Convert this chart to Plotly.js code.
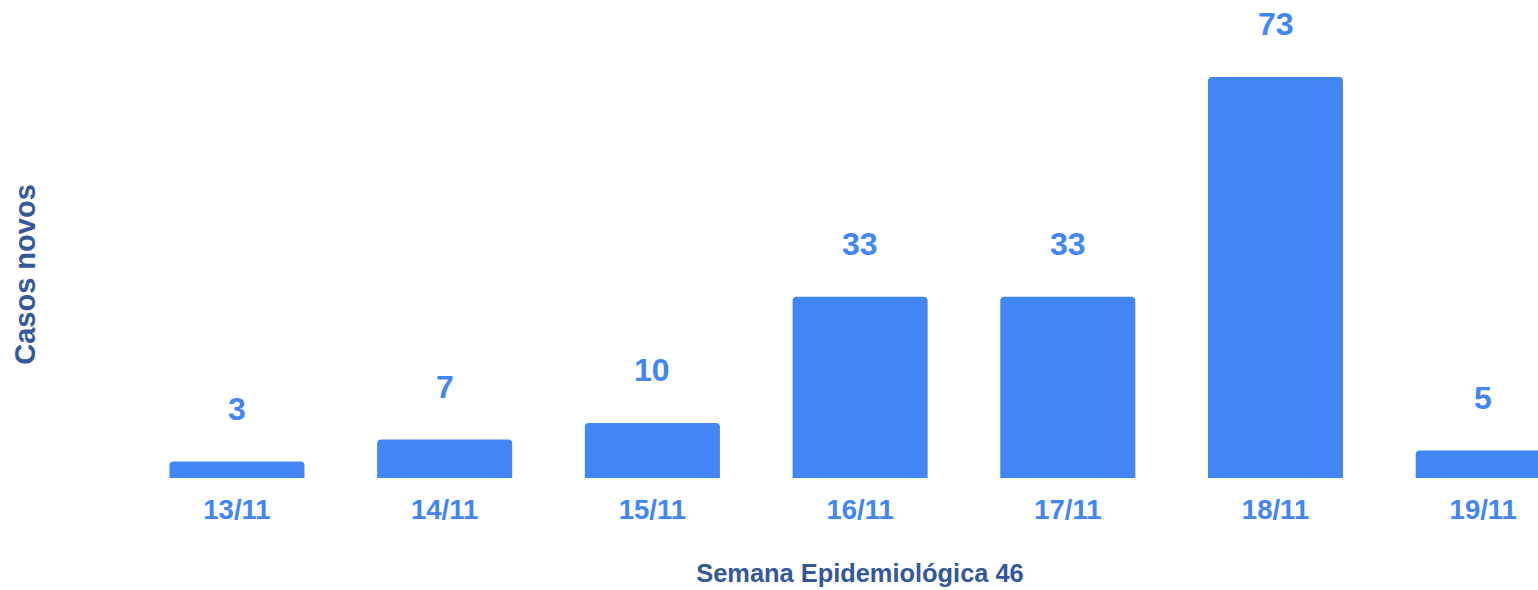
<!DOCTYPE html>
<html>
<head>
<meta charset="utf-8">
<script src="https://cdn.plot.ly/plotly-3.0.1.min.js"></script>
<style>html,body{margin:0;padding:0;background:#fff;overflow:hidden;}#chart{width:1590px;height:590px;}</style>
</head>
<body>
<div id="chart"></div>
<script>
const categories = ["13/11", "14/11", "15/11", "16/11", "17/11", "18/11", "19/11"];
const casosNovos = [3, 7, 10, 33, 33, 73, 5];
const xAxisTitle = "Semana Epidemiológica 46";
const yAxisTitle = "Casos novos";

const barColor = "#4285f4";
const titleColor = "#34589a";
const fontFamily = "Liberation Sans, Arial, sans-serif";

const trace = {
  type: "bar",
  x: categories,
  y: casosNovos,
  width: 0.65,
  marker: { color: barColor, cornerradius: 4 },
  hoverinfo: "none"
};

const annotations = categories.map((c, i) => ({
  x: c, y: casosNovos[i], xref: "x", yref: "y",
  text: String(casosNovos[i]),
  showarrow: false, yanchor: "middle", yshift: 53,
  font: { family: fontFamily, size: 32, color: barColor, weight: "bold" }
}));

const layout = {
  width: 1590, height: 590,
  margin: { l: 130, r: 0, t: 71, b: 112 },
  paper_bgcolor: "#fff", plot_bgcolor: "#fff",
  showlegend: false,
  xaxis: {
    type: "category",
    range: [-0.515, 6.514],
    showgrid: false, zeroline: false, showline: false,
    ticks: "", ticklabelstandoff: 12,
    tickfont: { family: fontFamily, size: 27.5, color: barColor, weight: "bold" },
    title: { text: xAxisTitle, standoff: 40, font: { family: fontFamily, size: 25.4, color: titleColor, weight: "bold" } }
  },
  yaxis: {
    range: [0, 74.1],
    showgrid: false, zeroline: false, showline: false, showticklabels: false, ticks: "",
    title: { text: yAxisTitle, standoff: 84, font: { family: fontFamily, size: 29, color: titleColor, weight: "bold" } }
  },
  annotations: annotations
};

Plotly.newPlot("chart", [trace], layout, { staticPlot: true, displayModeBar: false });
</script>
</body>
</html>
